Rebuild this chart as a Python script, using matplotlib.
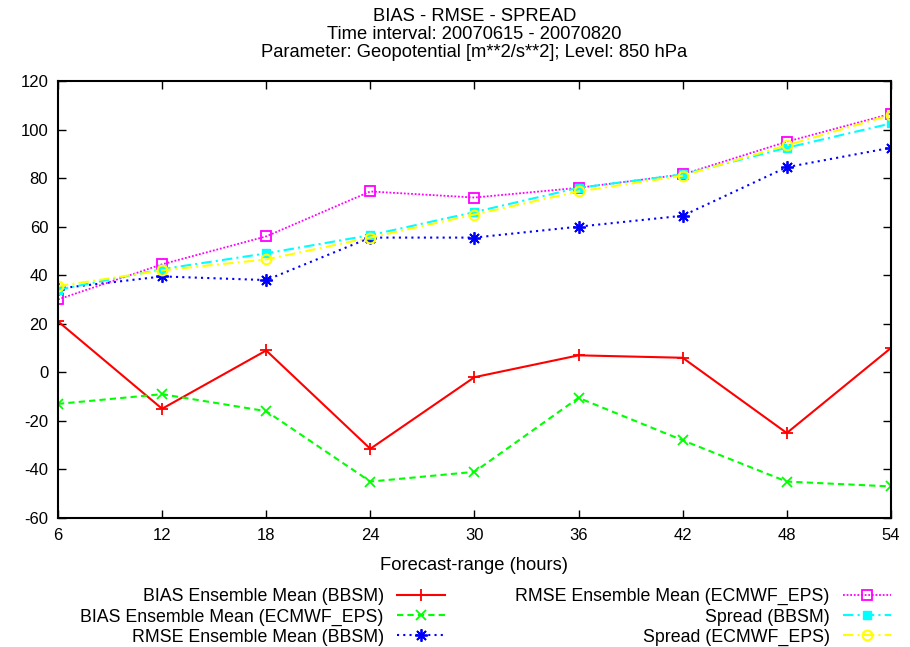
import matplotlib
matplotlib.use('Agg')
import matplotlib.pyplot as plt

plt.rcParams['font.family'] = ['Liberation Sans', 'DejaVu Sans']
plt.rcParams['axes.unicode_minus'] = False

# forecast range (hours)
hours = [6, 12, 18, 24, 30, 36, 42, 48, 54]

bias_bbsm = [21, -15, 9, -31.5, -2, 7, 6, -25, 10]
bias_ecmwf = [-13, -9, -16, -45, -41, -10.5, -28, -45, -47]
rmse_bbsm = [34.5, 39.5, 38, 55.5, 55.5, 60, 64.5, 84.5, 92.5]
rmse_ecmwf = [30, 44.5, 56, 74.5, 72, 76, 81.5, 95, 106.5]
spread_bbsm = [34, 42.5, 49, 56.5, 66, 76, 81.5, 92.5, 102.5]
spread_ecmwf = [35.5, 42, 46.5, 55.5, 65, 74.5, 81, 93.5, 106]

yticks = [-60, -40, -20, 0, 20, 40, 60, 80, 100, 120]

fig = plt.figure(figsize=(9.1, 6.47), dpi=100)
ax = fig.add_axes([0.0637, 0.1994, 0.9153, 0.6754])

ax.plot(hours, bias_bbsm, color='#ff0000', lw=1.5, ls='-', marker='+', ms=8, mew=1.3,
        label='BIAS Ensemble Mean (BBSM)')
ax.plot(hours, bias_ecmwf, color='#00ff00', lw=1.5, ls=(0, (3, 2)), marker='x', ms=7, mew=1.3,
        label='BIAS Ensemble Mean (ECMWF_EPS)')
ax.plot(hours, rmse_bbsm, color='#0000ff', lw=1.5, ls=(0, (1, 2)), marker=(8, 2, 0), ms=9, mew=1.3,
        label='RMSE Ensemble Mean (BBSM)')
ax.plot(hours, rmse_ecmwf, color='#ff00ff', lw=1.3, ls=(0, (1, 1)), marker='s', ms=7, mfc='none', mew=1.3,
        label='RMSE Ensemble Mean (ECMWF_EPS)')
ax.plot(hours, spread_bbsm, color='#00ffff', lw=1.5, ls=(0, (5, 2, 1, 2)), marker='s', ms=6, mew=1.0,
        label='Spread (BBSM)')
ax.plot(hours, spread_ecmwf, color='#ffff00', lw=1.5, ls=(0, (5, 2, 1, 2)), marker='o', ms=7, mfc='none', mew=1.5,
        label='Spread (ECMWF_EPS)')

ax.set_xlim(6, 54)
ax.set_ylim(-60, 120)
ax.set_xticks(hours)
ax.set_yticks(yticks)
ax.tick_params(direction='in', length=6, width=1, top=True, right=True, labelsize=12, pad=7)
for s in ax.spines.values():
    s.set_linewidth(1.5)

ax.set_xlabel('Forecast-range (hours)', fontsize=13.2, labelpad=10)
ax.set_title('BIAS - RMSE - SPREAD\nTime interval: 20070615 - 20070820\n'
             'Parameter: Geopotential [m**2/s**2]; Level: 850 hPa',
             fontsize=13.2, linespacing=1.08, pad=17)

ax.legend(loc='upper right', bbox_to_anchor=(0.979, 0.091), bbox_transform=fig.transFigure,
          ncol=2, markerfirst=False, frameon=False, fontsize=12.8, handlelength=2.7,
          handletextpad=0.75, columnspacing=3.95, labelspacing=0.18, borderpad=0, borderaxespad=0)

fig.savefig('out.png', dpi=100)
